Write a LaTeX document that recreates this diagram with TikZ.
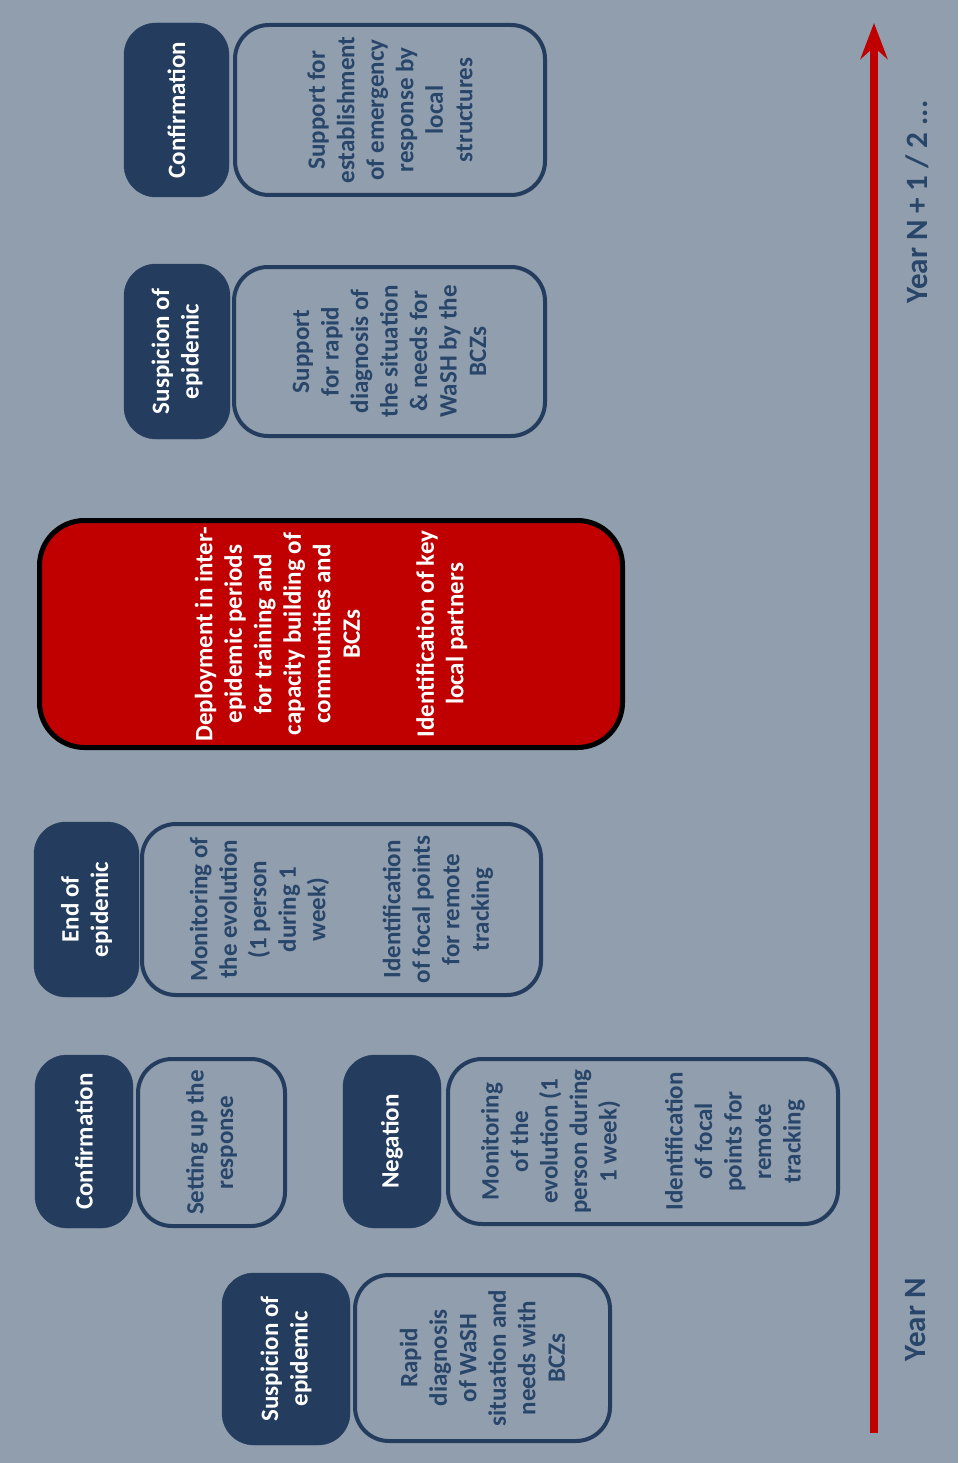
\documentclass[tikz,border=0pt]{standalone}
\usepackage{fontspec}
\setmainfont{Carlito}
\usetikzlibrary{arrows.meta}
\definecolor{bg}{HTML}{919EAD}
\definecolor{navy}{HTML}{243D5F}
\definecolor{ntext}{HTML}{28456A}
\definecolor{tred}{HTML}{C00000}
\tikzset{
  txt/.style={font=\bfseries\fontsize{25}{29.5}\selectfont, align=center, rotate=90, inner sep=0pt},
  phase/.style={txt, rectangle, rounded corners=32pt, fill=navy, draw=navy, text=white},
  act/.style={txt, rectangle, rounded corners=34pt, draw=navy, line width=4pt, text=ntext},
  keybox/.style={txt, rectangle, rounded corners=45pt, fill=tred, draw=black, line width=5pt, text=white},
  yearlbl/.style={font=\bfseries\fontsize{31}{35}\selectfont, text=ntext, rotate=90, inner sep=0pt},
  timeline/.style={draw=tred, line width=8pt, -{Stealth[length=36pt,width=27pt,inset=12pt]}}
}
\begin{document}
\begin{tikzpicture}[x=1pt,y=-1pt]
\useasboundingbox (0,0) rectangle (958,1463);
\fill[bg] (0,0) rectangle (958,1463);

% top column
\node[phase, minimum width=174pt, minimum height=105pt] (conf3) at (176.5,110) {Confirmation};
\node[act, minimum width=170pt, minimum height=310pt] (supp3) at (390,110)
  {Support for\\establishment\\of emergency\\response by\\local\\structures};

\node[phase, minimum width=175pt, minimum height=106pt] (susp2) at (177,351.5) {Suspicion of\\epidemic};
\node[act, minimum width=169pt, minimum height=311pt] (supp2) at (389.5,351.5)
  {Support\\for rapid\\diagnosis of\\the situation\\\& needs for\\WaSH by the\\BCZs};

% red key box
\node[keybox, minimum width=227pt, minimum height=583pt] (key) at (331,634)
  {Deployment in inter-\\epidemic periods\\for training and\\capacity building of\\communities and\\BCZs\\[44.5pt]Identification of key\\local partners};

% end of epidemic
\node[phase, minimum width=175pt, minimum height=105pt] (endep) at (86.5,909.5) {End of\\epidemic};
\node[act, minimum width=171pt, minimum height=399pt] (endact) at (341.5,909.5)
  {Monitoring of\\the evolution\\(1 person\\during 1\\week)\\[45.5pt]Identification\\of focal points\\for remote\\tracking};

% confirmation / negation
\node[phase, minimum width=173pt, minimum height=98pt] (conf1) at (84,1141.5) {Confirmation};
\node[act, minimum width=167pt, minimum height=147pt] (setup) at (211.5,1142.5) {Setting up the\\response};

\node[phase, minimum width=173pt, minimum height=98pt] (neg) at (392,1141.5) {Negation};
\node[act, minimum width=165pt, minimum height=390pt] (negact) at (643,1141.5)
  {Monitoring\\of the\\evolution (1\\person during\\1 week)\\[36.5pt]Identification\\of focal\\points for\\remote\\tracking};

% bottom
\node[phase, minimum width=172pt, minimum height=128pt] (susp1) at (286,1359) {Suspicion of\\epidemic};
\node[act, minimum width=166pt, minimum height=255pt] (rapid) at (482.5,1358)
  {Rapid\\diagnosis\\of WaSH\\situation and\\needs with\\BCZs};

% timeline
\coordinate (tstart) at (874,1433);
\coordinate (tend) at (874,23);
\draw[timeline] (tstart) -- (tend);
\node[yearlbl] (yn) at (916,1320) {Year N};
\node[yearlbl] (yn1) at (917,202) {Year N + 1 / 2 ...};
\end{tikzpicture}
\end{document}
